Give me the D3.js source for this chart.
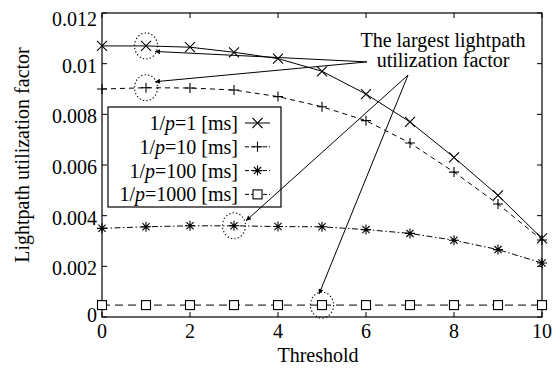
<!DOCTYPE html>
<html>
<head>
<meta charset="utf-8">
<script src="https://cdn.jsdelivr.net/npm/d3@7"></script>
<style>
  html, body { margin: 0; padding: 0; background: #fff; }
  svg { display: block; }
  text { font-family: "Liberation Serif", "Times New Roman", serif; fill: #000; }
</style>
</head>
<body>
<svg id="chart" width="552" height="370"></svg>
<script>
// Lightpath utilization factor versus threshold, for four values of 1/p
const thresholds = [0, 1, 2, 3, 4, 5, 6, 7, 8, 9, 10];
const util_p1    = [0.0107, 0.0107, 0.01065, 0.01045, 0.0102, 0.0097, 0.0088, 0.0077, 0.0063, 0.0048, 0.0031];
const util_p10   = [0.0090, 0.00905, 0.00904, 0.00896, 0.0087, 0.0083, 0.00775, 0.00687, 0.00572, 0.00446, 0.00304];
const util_p100  = [0.0035, 0.00356, 0.0036, 0.0036, 0.00357, 0.00356, 0.00345, 0.0033, 0.00303, 0.00266, 0.00213];
const util_p1000 = [0.00047, 0.00047, 0.00047, 0.00047, 0.00047, 0.00047, 0.00047, 0.00047, 0.00047, 0.00047, 0.00047];
const seriesValue = ["1", "10", "100", "1000"];
const xTicks = [0, 2, 4, 6, 8, 10];
const yTicks = [0, 0.002, 0.004, 0.006, 0.008, 0.01, 0.012];
const yTickLabels = ["0", "0.002", "0.004", "0.006", "0.008", "0.01", "0.012"];
// largest value of each series: [series index, threshold index]
const largest = [[0, 1], [1, 1], [2, 3], [3, 5]];

const svg = d3.select("#chart");
const pL = 102, pR = 542, pT = 13, pB = 317;
const x = d3.scaleLinear().domain([0, 10]).range([pL, pR]);
const y = d3.scaleLinear().domain([0, 0.012]).range([pB, pT]);
const FS = 20;

const series = [
  { values: util_p1,    dash: null,               marker: "x" },
  { values: util_p10,   dash: "5,4",              marker: "plus" },
  { values: util_p100,  dash: "6,2.5,1.5,2.5",    marker: "star" },
  { values: util_p1000, dash: "8,5",              marker: "square" }
];

function drawMarker(g, type, cx, cy) {
  const s = 5;
  if (type === "x") {
    g.append("path").attr("d", `M${cx-s},${cy-s}L${cx+s},${cy+s}M${cx-s},${cy+s}L${cx+s},${cy-s}`)
      .attr("stroke", "#000").attr("stroke-width", 1.1).attr("fill", "none");
  } else if (type === "plus") {
    g.append("path").attr("d", `M${cx-s},${cy}L${cx+s},${cy}M${cx},${cy-s}L${cx},${cy+s}`)
      .attr("stroke", "#000").attr("stroke-width", 1.1).attr("fill", "none");
  } else if (type === "star") {
    const d = s * 0.72;
    g.append("path").attr("d", `M${cx-s},${cy}L${cx+s},${cy}M${cx},${cy-s}L${cx},${cy+s}M${cx-d},${cy-d}L${cx+d},${cy+d}M${cx-d},${cy+d}L${cx+d},${cy-d}`)
      .attr("stroke", "#000").attr("stroke-width", 1.1).attr("fill", "none");
  } else {
    g.append("rect").attr("x", cx - 4.5).attr("y", cy - 4.5).attr("width", 9).attr("height", 9)
      .attr("fill", "#fff").attr("stroke", "#000").attr("stroke-width", 1.1);
  }
}

// frame and ticks
const axes = svg.append("g");
axes.append("rect").attr("x", pL).attr("y", pT).attr("width", pR - pL).attr("height", pB - pT)
  .attr("fill", "none").attr("stroke", "#000").attr("stroke-width", 1.2);
xTicks.forEach(t => {
  axes.append("line").attr("x1", x(t)).attr("x2", x(t)).attr("y1", pB).attr("y2", pB - 5).attr("stroke", "#000");
  axes.append("line").attr("x1", x(t)).attr("x2", x(t)).attr("y1", pT).attr("y2", pT + 5).attr("stroke", "#000");
  axes.append("text").attr("x", x(t)).attr("y", pB + 21).attr("text-anchor", "middle")
    .attr("font-size", FS).text(t);
});
yTicks.forEach((t, i) => {
  axes.append("line").attr("x1", pL).attr("x2", pL + 5).attr("y1", y(t)).attr("y2", y(t)).attr("stroke", "#000");
  axes.append("line").attr("x1", pR).attr("x2", pR - 5).attr("y1", y(t)).attr("y2", y(t)).attr("stroke", "#000");
  const cy = Math.min(Math.max(y(t) + 2, pT + 6), pB - 2);
  axes.append("text").attr("x", pL - 5).attr("y", cy).attr("dy", "0.35em").attr("text-anchor", "end")
    .attr("font-size", FS).text(yTickLabels[i]);
});
axes.append("text").attr("x", 318).attr("y", 362).attr("text-anchor", "middle").attr("font-size", FS).text("Threshold");
axes.append("text").attr("transform", `translate(29,155) rotate(-90)`)
  .attr("text-anchor", "middle").attr("font-size", FS).text("Lightpath utilization factor");

// series lines and markers
const line = d3.line().x((d, i) => x(thresholds[i])).y(d => y(d));
const plot = svg.append("g");
series.forEach(s => {
  plot.append("path").attr("d", line(s.values)).attr("fill", "none").attr("stroke", "#000")
    .attr("stroke-width", 1).attr("stroke-dasharray", s.dash);
  s.values.forEach((v, i) => drawMarker(plot, s.marker, x(thresholds[i]), y(v)));
});

// legend
const lg = svg.append("g");
const lgLeft = 108, lgTop = 107, lgRight = 281, lgBottom = 207;
lg.append("rect").attr("x", lgLeft).attr("y", lgTop).attr("width", lgRight - lgLeft).attr("height", lgBottom - lgTop)
  .attr("fill", "#fff").attr("stroke", "#000").attr("stroke-width", 1.2);
series.forEach((s, i) => {
  const ly = 123 + i * 23.8;
  const t = lg.append("text").attr("x", 238).attr("y", ly).attr("dy", "0.35em").attr("text-anchor", "end").attr("font-size", FS);
  t.append("tspan").text("1/");
  t.append("tspan").attr("font-style", "italic").text("p");
  t.append("tspan").text("=" + seriesValue[i] + " [ms]");
  lg.append("line").attr("x1", 245).attr("x2", 270).attr("y1", ly).attr("y2", ly).attr("stroke", "#000")
    .attr("stroke-dasharray", s.dash ? "4,2" : null);
  drawMarker(lg, s.marker, 257.5, ly);
});

// annotation: dotted rings around the largest values, with arrows to a caption
const ann = svg.append("g");
const defs = svg.append("defs");
defs.append("marker").attr("id", "arrow").attr("viewBox", "0 0 10 10").attr("refX", 10).attr("refY", 5)
  .attr("markerWidth", 7).attr("markerHeight", 5).attr("markerUnits", "userSpaceOnUse").attr("orient", "auto")
  .append("path").attr("d", "M0,0L10,5L0,10z").attr("fill", "#000");

const ringPos = largest.map(([si, ti]) => [x(thresholds[ti]), y(series[si].values[ti])]);
ringPos.forEach(([cx, cy]) => {
  ann.append("ellipse").attr("cx", cx).attr("cy", cy).attr("rx", 11.5).attr("ry", 13)
    .attr("fill", "none").attr("stroke", "#000").attr("stroke-width", 1.1).attr("stroke-dasharray", "1.3,2.2");
});
const captionX = x(7.75);
ann.append("text").attr("x", captionX).attr("y", 47).attr("text-anchor", "middle").attr("font-size", FS).text("The largest lightpath");
ann.append("text").attr("x", captionX).attr("y", 67).attr("text-anchor", "middle").attr("font-size", FS).text("utilization factor");

const arrowFrom = [[x(6.02), y(0.01007)], [x(6.02), y(0.01007)], [x(6.955), y(0.00955)], [x(6.955), y(0.00955)]];
const arrowOffset = [[9, 5.5], [9, -6], [12, -5], [-3, -11]];
ringPos.forEach(([cx, cy], i) => {
  ann.append("line").attr("x1", arrowFrom[i][0]).attr("y1", arrowFrom[i][1])
    .attr("x2", cx + arrowOffset[i][0]).attr("y2", cy + arrowOffset[i][1])
    .attr("stroke", "#000").attr("stroke-width", 1).attr("marker-end", "url(#arrow)");
});
</script>
</body>
</html>
